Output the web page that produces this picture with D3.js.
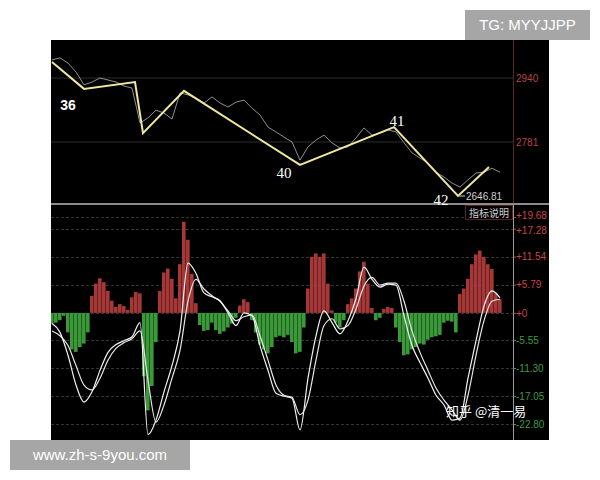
<!DOCTYPE html>
<html><head><meta charset="utf-8">
<script src="https://cdn.jsdelivr.net/npm/d3@7"></script>
<style>body{margin:0;background:#fff;} svg{display:block}</style>
</head><body><svg id="c" width="600" height="480"></svg>
<script>
// ---- data ----
const histValues = [-2.2,-2.0,-1.5,-0.6,-4,-7.5,-8,-7,-6.3,-4,
 3.5,6,7.1,6.3,4.5,2.5,1.2,1.8,1.4,0.6,
 3.2,4.3,4.0,-13,-20,-15,-6,4.5,8.3,9.1,
 7,3,10,18.7,15,8,2,-2.5,-3.7,-3.5,
 -2,-3.5,-4.3,-3.8,-3,-2.2,-1,1.5,2.8,2.2,
 -1.5,-4,-6.5,-7.5,-8.3,-7,-5,-4.7,-5,-4.5,
 -6,-8.3,-8,-3,5,11.5,12.2,11.5,12.2,6,
 0.5,-2,-3,-1.5,1.8,3,5,8.5,10.5,6,
 1,-1.5,-1,0.8,1.2,1.0,-3,-6,-8.7,-8.5,
 -7.5,-7,-6.3,-6.5,-5.5,-5,-4.8,-4.5,-2,-1.6,
 -1.8,-4,3.9,5,7,10,12,12.8,11.5,10,
 9,4,2.8];
const lineDays = [0,2,4,6,8,10,12,14,16,18,20,22,24,26,28,30,32,34,36,38,40,42,44,46,48,50,52,54,56,58,60,62,64,66,68,70,72,74,76,78,80,82,84,86,88,90,92,94,96,98,100,102,104,106,108,110,112];
const difValues = [-2.2,-4.0,-8.7,-14.8,-18.3,-16.2,-11.8,-8.1,-6.5,-5.7,
 -4.9,-2.0,-25.0,-22.0,-16.2,-10.8,-3.7,10.2,8.1,4.1,
 3.3,2.5,0,-2.6,0,-0.6,-6.7,-11.8,-16.5,-17.1,
 -17.5,-24.0,-13.4,-4.7,0.4,-2.0,-4.3,-1.6,2.9,9.4,
 6.9,5.3,5.9,5.7,-0.6,-6.7,-10.2,-13.4,-16.9,-18.9,
 -22.0,-21.6,-13.4,-5.7,1.4,4.5,3.1];
const deaValues = [-3.7,-4.7,-6.7,-10.8,-14.8,-15.8,-13.4,-9.7,-7.3,-6.1,
 -5.3,-3.7,-13.8,-22.4,-18.9,-13.4,-7.7,2.4,6.9,4.9,
 3.5,2.4,0.4,-1.6,-0.8,-0.4,-4.7,-9.7,-14.8,-16.9,
 -17.3,-20.9,-17.9,-9.7,-2.6,-1.2,-3.3,-2.6,0.8,5.5,
 7.3,5.7,6.1,6.1,2.4,-3.7,-8.1,-11.8,-15.4,-17.9,
 -19.9,-22.0,-16.9,-8.7,-1.6,2.4,2.8];
const priceValues = [2985,2990,2977,2955,2923,2930,2940,2935,2930,2920,
 2915,2828,2841,2860,2853,2838,2903,2898,2890,2878,
 2893,2878,2868,2880,2885,2865,2848,2818,2806,2793,
 2781,2736,2769,2786,2798,2779,2766,2769,2791,2816,
 2798,2803,2811,2806,2779,2754,2741,2729,2706,2694,
 2679,2669,2687,2704,2706,2716,2706];
const zigDays = [0,8,20.75,22.75,33,62,85.5,101.5,109.25];
const zigPrices = [2980,2913,2930,2803,2908,2724,2818,2647,2719];
const waveLabels = [{i:1,t:"36"},{i:5,t:"40"},{i:6,t:"41"},{i:7,t:"42"}];
const priceTicks = [2940,2781];
const lowPrice = 2646.81;
const macdTicks = [19.68,17.28,11.54,5.79,0,-5.55,-11.30,-17.05,-22.80];
const macdTickLabels = ["+19.68","+17.28","+11.54","+5.79","+0","-5.55","-11.30","-17.05","-22.80"];

// ---- layout ----
const svg = d3.select('#c');
const L=51, R=549, T=40, B=440, AX=513, SEP=204;
svg.append('rect').attr('x',L).attr('y',T).attr('width',R-L).attr('height',B-T).attr('fill','#000');

const x = d3.scaleLinear().domain([0,112]).range([52,500]);
const yTop = d3.scaleLinear().domain([2781,2940]).range([142,78]);
const yBot = d3.scaleLinear().domain([-22.80,19.68]).range([424,217]);

const defs = svg.append('defs');
defs.append('clipPath').attr('id','ct').append('rect').attr('x',L).attr('y',T).attr('width',AX-L).attr('height',SEP-T);
defs.append('clipPath').attr('id','cb').append('rect').attr('x',L).attr('y',SEP+1).attr('width',AX-L).attr('height',B-SEP-1);

// top grid
svg.append('g').selectAll('line').data(priceTicks).join('line')
 .attr('x1',L).attr('x2',AX).attr('y1',d=>yTop(d)).attr('y2',d=>yTop(d))
 .attr('stroke','#2c2c2c').attr('stroke-width',1.2);
// bottom grid
svg.append('g').selectAll('line').data(macdTicks).join('line')
 .attr('x1',L).attr('x2',AX).attr('y1',d=>Math.round(yBot(d))+0.5).attr('y2',d=>Math.round(yBot(d))+0.5)
 .attr('stroke','#333').attr('stroke-dasharray','3,2');

// axes
const topAxis = svg.append('g').attr('transform',`translate(${AX},0)`)
 .call(d3.axisRight(yTop).tickValues(priceTicks).tickSize(0).tickPadding(3).tickFormat(d3.format('d')));
topAxis.select('.domain').remove();
topAxis.selectAll('text').attr('fill','#b8444a').style('font-family','Liberation Sans, Arial').style('font-size','10px');

const botAxis = svg.append('g').attr('transform',`translate(${AX},0)`)
 .call(d3.axisRight(yBot).tickValues(macdTicks).tickSize(3).tickPadding(0).tickFormat((d,i)=>macdTickLabels[i]));
botAxis.select('.domain').remove();
botAxis.selectAll('line').attr('stroke',d=>d>=0?'#b8444a':'#3e9a48');
botAxis.selectAll('text').attr('fill',d=>d>=0?'#c8454a':'#3e9a48')
 .attr('dy',d=>d===19.68?'0.1em':(d===17.28?'0.5em':'0.32em'))
 .style('font-family','Liberation Sans, Arial').style('font-size','10px');

svg.append('line').attr('x1',AX+0.5).attr('x2',AX+0.5).attr('y1',T).attr('y2',SEP).attr('stroke','#5a2626');
svg.append('line').attr('x1',AX+0.5).attr('x2',AX+0.5).attr('y1',SEP).attr('y2',B).attr('stroke','#9a9a9a');

// separator
svg.append('line').attr('x1',L).attr('x2',R).attr('y1',SEP).attr('y2',SEP).attr('stroke','#8c8c8c').attr('stroke-width',2);

// histogram
const gb = svg.append('g').attr('clip-path','url(#cb)');
gb.selectAll('rect').data(histValues).join('rect')
 .attr('x',(d,i)=>x(i)-2).attr('width',3.6)
 .attr('y',d=>Math.min(yBot(d),yBot(0))).attr('height',d=>Math.abs(yBot(d)-yBot(0)))
 .attr('fill',d=>d>=0?'#a83838':'#3a9a3a');
const ml = d3.line().x((d,i)=>x(lineDays[i])).y(d=>yBot(d)).curve(d3.curveMonotoneX);
gb.append('path').datum(deaValues).attr('d',ml).attr('fill','none').attr('stroke','#e6e6e6').attr('stroke-width',1.2);
gb.append('path').datum(difValues).attr('d',ml).attr('fill','none').attr('stroke','#f2f2f2').attr('stroke-width',1.2);

// price
const gt = svg.append('g').attr('clip-path','url(#ct)');
const pl = d3.line().x((d,i)=>x(lineDays[i])).y(d=>yTop(d));
gt.append('path').datum(priceValues).attr('d',pl).attr('fill','none').attr('stroke','#a8a8a8').attr('stroke-width',1).attr('opacity',0.85);
const zl = d3.line().x((d,i)=>x(zigDays[i])).y(d=>yTop(d));
gt.append('path').datum(zigPrices).attr('d',zl).attr('fill','none').attr('stroke','#efe7a0').attr('stroke-width',2);

// wave labels
const off = {"36":[-16,21,'sans'],"40":[-16,13,'serif'],"41":[3,-1,'serif'],"42":[-17,9,'serif']};
svg.append('g').selectAll('text').data(waveLabels).join('text')
 .attr('x',d=>x(zigDays[d.i])+off[d.t][0]).attr('y',d=>yTop(zigPrices[d.i])+off[d.t][1])
 .attr('text-anchor','middle').attr('fill','#ffffff')
 .style('font-family',d=>off[d.t][2]==='serif'?'Liberation Serif, serif':'Liberation Sans, Arial')
 .style('font-size',d=>off[d.t][2]==='serif'?'15px':'14px')
 .style('font-weight',d=>off[d.t][2]==='serif'?'normal':'bold')
 .text(d=>d.t);

// low marker
svg.append('line').attr('x1',x(zigDays[7])+1).attr('x2',x(zigDays[7])+7).attr('y1',yTop(lowPrice)).attr('y2',yTop(lowPrice)).attr('stroke','#ccc');
svg.append('text').attr('x',x(zigDays[7])+8).attr('y',yTop(lowPrice)).attr('dy','0.35em')
 .attr('fill','#cfcfcf').style('font-family','Liberation Sans, Arial').style('font-size','10px').text(d3.format('.2f')(lowPrice));

// indicator box
svg.append('rect').attr('x',465.5).attr('y',205.5).attr('width',47).attr('height',14).attr('fill','#000').attr('stroke','#5a2020');
svg.append('text').attr('x',489).attr('y',213).attr('dy','0.35em').attr('text-anchor','middle')
 .attr('fill','#d0d0d0').style('font-family','Noto Sans CJK SC').style('font-size','10px').text('指标说明');

// watermarks
svg.append('text').attr('x',446).attr('y',411).attr('dy','0.35em').attr('fill','#fff')
 .style('font-family','Noto Sans CJK SC').style('font-size','13px').text('知乎 @清一易');
svg.append('rect').attr('x',465).attr('y',10).attr('width',125).attr('height',30).attr('fill','#a6a6a6');
svg.append('text').attr('x',527.5).attr('y',25).attr('dy','0.35em').attr('text-anchor','middle').attr('fill','#fff')
 .style('font-family','Liberation Sans, Arial').style('font-size','15px').text('TG: MYYJJPP');
svg.append('rect').attr('x',10).attr('y',440).attr('width',180).attr('height',30).attr('fill','#a6a6a6');
svg.append('text').attr('x',100).attr('y',455).attr('dy','0.35em').attr('text-anchor','middle').attr('fill','#fff')
 .style('font-family','Liberation Sans, Arial').style('font-size','15px').text('www.zh-s-9you.com');
</script></body></html>
